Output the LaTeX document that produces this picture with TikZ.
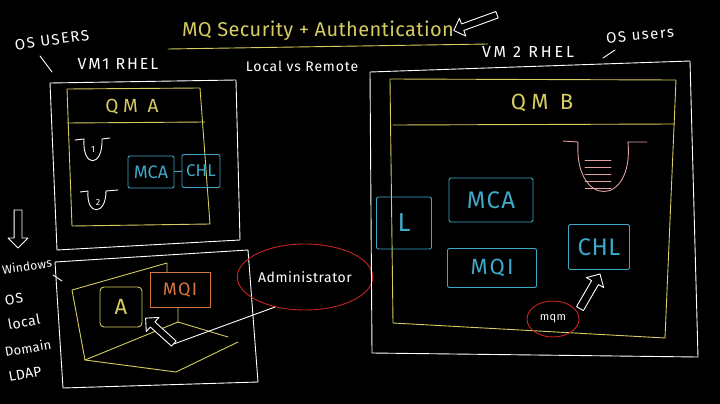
\documentclass[tikz,border=0pt]{standalone}
\usepackage{fontspec}
\setmainfont{Fira Sans}
\usetikzlibrary{shapes.arrows,shapes.geometric,positioning}
\definecolor{chalkyellow}{RGB}{214,204,96}
\definecolor{chalkcyan}{RGB}{62,168,200}
\definecolor{chalkorange}{RGB}{214,118,62}
\definecolor{chalkred}{RGB}{200,36,36}
\definecolor{chalkpink}{RGB}{226,162,162}
\newcommand{\fs}[2]{\fontsize{#1}{#1}\selectfont\addfontfeatures{LetterSpace=#2}}
\begin{document}
\begin{tikzpicture}[x=1pt,y=-1pt,line width=0.9pt,line join=round,line cap=round,
	ink/.style={text=white,inner sep=1pt},
	cbox/.style={draw=chalkcyan,text=chalkcyan,rounded corners=2pt,inner sep=0pt},
	hollow/.style={single arrow,draw=white,single arrow head extend=6pt,inner sep=3.5pt,minimum width=0pt}]
	\fill[black] (0,0) rectangle (720,404);
	\useasboundingbox (0,0) rectangle (720,404);
	% title
	\node[text=chalkyellow,font=\fs{20}{2}] (title) at (318,31) {MQ Security + Authentication};
	\draw[chalkyellow] (168,49) -- (488,44);
	\node[hollow,minimum height=46pt,inner sep=3pt,rotate=200] (titlearrow) at (477,22) {};
	\node[ink,font=\fs{14}{6}] (lvr) at (302,66) {Local vs Remote};
	% VM 1
	\node[ink,font=\fs{15}{10},rotate=8] (osusers1) at (52,40) {OS USERS};
	\draw[white] (40,56) -- (52,72);
	\node[ink,font=\fs{16}{12}] (vm1) at (118,64) {VM1 RHEL};
	\draw[white] (50,83) -- (236,80) -- (240,240) -- (57,250) -- cycle;
	\draw[chalkyellow] (67,89) -- (200,88) -- (210,224) -- (72,226) -- cycle;
	\draw[chalkyellow] (67,123) -- (205,122);
	\node[text=chalkyellow,font=\fs{19}{25}] (qma) at (132,107) {QM A};
	\draw[white] (75,140) -- (84,139) .. controls (82,168) and (103,168) .. (102,139) -- (110,138);
	\node[ink,font=\fs{9}{0}] (q1) at (93,149) {1};
	\draw[white] (80,192) -- (88,191) .. controls (86,216) and (106,216) .. (106,191) -- (118,190);
	\node[ink,font=\fs{9}{0}] (q2) at (98,202) {2};
	\node[cbox,minimum width=46pt,minimum height=32pt,font=\fs{18}{0}] (mcaa) at (151,172) {MCA};
	\node[cbox,minimum width=38pt,minimum height=33pt,font=\fs{17}{0}] (chla) at (201,171) {CHL};
	\draw[chalkcyan] (mcaa) -- (chla);
	% windows side
	\node[hollow,minimum height=38pt,inner sep=3.5pt,rotate=270] (downarrow) at (18,227) {};
	\node[ink,font=\fs{12}{2},rotate=8] (win) at (27,266) {Windows};
	\node[ink,font=\fs{14}{8},rotate=8] (os) at (14,299) {OS};
	\node[ink,font=\fs{14}{4},rotate=10] (local) at (24,322) {local};
	\node[ink,font=\fs{13}{2},rotate=10] (domain) at (28,348) {Domain};
	\node[ink,font=\fs{14}{2},rotate=10] (ldap) at (25,374) {LDAP};
	\draw[white] (53,275) -- (62,281);
	\draw[white] (55,262) -- (248,250) -- (258,382) -- (63,388) -- cycle;
	% laptop
	\draw[chalkyellow] (167,272) -- (167,263) -- (72,290) -- (85,360) -- (178,322) -- (178,308);
	\draw[chalkyellow] (85,360) -- (176,372) -- (238,342);
	\draw[chalkyellow] (178,322) -- (228,337);
	\node[draw=chalkyellow,text=chalkyellow,rounded corners=4pt,minimum width=42pt,minimum height=40pt,font=\fs{22}{0}] (abox) at (121,307) {A};
	\node[draw=chalkorange,text=chalkorange,minimum width=60pt,minimum height=35pt,inner sep=0pt,font=\fs{18}{8}] (mqia) at (180,290) {MQI};
	\node[hollow,fill=black,minimum height=38pt,inner sep=3pt,rotate=138] (cursor) at (161,332) {};
	\node[ellipse,draw=chalkred,ink,minimum width=124pt,minimum height=66pt,font=\fs{14}{4}] (admin) at (305,277) {Administrator};
	\draw[white] (admin.225) -- (cursor.tail);
	% VM 2
	\node[ink,font=\fs{16}{18}] (vm2) at (528,52) {VM 2 RHEL};
	\node[ink,font=\fs{15}{10},rotate=5] (osusers2) at (640,35) {OS users};
	\draw[white] (603,58) -- (615,50);
	\draw[white] (370,72) -- (690,61) -- (698,357) -- (372,353) -- cycle;
	\draw[chalkyellow] (390,79) -- (676,80) -- (665,338) -- (393,323) -- cycle;
	\draw[chalkyellow] (393,125) -- (675,124);
	\node[text=chalkyellow,font=\fs{22}{25}] (qmb) at (542,103) {QM B};
	\draw[chalkpink] (563,141) -- (578,142) .. controls (574,208) and (634,208) .. (628,142) -- (647,142);
	\foreach \y in {160,167,174,181,188}
		\draw[chalkpink] (585,\y) -- (611,\y);
	\node[cbox,minimum width=55pt,minimum height=52pt,font=\fs{26}{0}] (lb) at (404,223) {L};
	\node[cbox,minimum width=84pt,minimum height=44pt,font=\fs{24}{6}] (mcab) at (491,200) {MCA};
	\node[cbox,minimum width=89pt,minimum height=39pt,font=\fs{22}{10}] (mqib) at (492,268) {MQI};
	\node[cbox,minimum width=61pt,minimum height=45pt,font=\fs{24}{2}] (chlb) at (599,247) {CHL};
	\node[hollow,minimum height=40pt,inner sep=3.5pt,rotate=60] (chlarrow) at (589,293) {};
	\node[ellipse,draw=chalkred,ink,minimum width=52pt,minimum height=36pt,font=\fs{11}{4}] (mqm) at (553,319) {mqm};
\end{tikzpicture}
\end{document}
